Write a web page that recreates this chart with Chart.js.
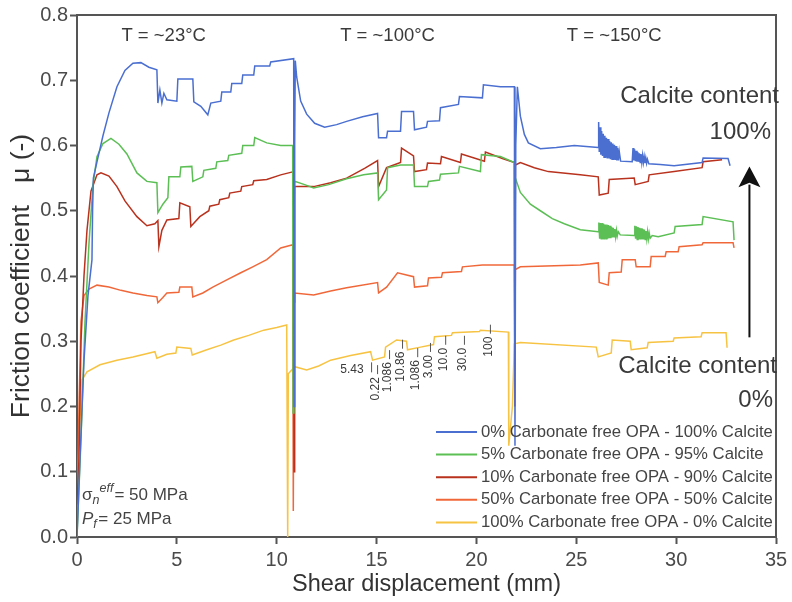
<!DOCTYPE html>
<html>
<head>
<meta charset="utf-8">
<script src="https://cdn.jsdelivr.net/npm/chart.js@4"></script>
<style>
html, body { margin: 0; padding: 0; background: #fff; }
</style>
</head>
<body>
<canvas id="chart" width="792" height="602"></canvas>
<script>
// séries : [déplacement (mm), coefficient de friction]
var calcite100 = [[0,0.0],[0.15,0.12],[0.35,0.27],[0.55,0.37],[0.75,0.425],[0.78,0.5],[0.82,0.55],[1.0,0.575],[1.3,0.615],[1.6,0.65],[2.0,0.69],[2.4,0.715],[2.8,0.726],[3.2,0.727],[3.6,0.72],[4.0,0.716],
  [4.05,0.665],[4.15,0.685],[4.25,0.665],[4.35,0.68],[4.5,0.67],[5.0,0.668],[5.05,0.702],[5.8,0.702],[5.85,0.667],[6.2,0.66],[6.55,0.647],[6.7,0.665],[7.2,0.668],[7.25,0.682],[7.7,0.682],[7.75,0.695],[8.25,0.695],[8.3,0.708],[8.85,0.708],[8.9,0.722],[9.65,0.722],[9.7,0.728],[10.85,0.733],
  [10.87,0.2],[10.9,0.6],[10.93,0.73],[11.0,0.705],[11.2,0.668],[11.5,0.648],[11.9,0.634],[12.4,0.628],[13.0,0.632],[13.5,0.637],[14.3,0.644],[15.05,0.649],[15.1,0.612],[15.5,0.612],[15.55,0.622],[16.2,0.622],[16.25,0.652],[16.85,0.652],[16.9,0.624],[17.5,0.628],[17.55,0.637],[18.15,0.638],[18.2,0.658],[19.1,0.663],[19.15,0.675],[20.3,0.673],[20.35,0.693],[21.2,0.69],[21.9,0.69],
  [21.93,0.14],[21.97,0.6],[22.05,0.69],[22.2,0.645],[22.4,0.617],[22.6,0.604],[23.2,0.595],[24.0,0.597],[24.9,0.6],[26.1,0.597],
  [26.12,0.636],[26.15,0.59],[26.19,0.628],[26.23,0.586],[26.27,0.622],[26.31,0.584],[26.35,0.618],[26.39,0.582],[26.43,0.615],[26.47,0.581],[26.51,0.612],[26.55,0.58],[26.59,0.61],[26.63,0.58],[26.67,0.607],[26.71,0.579],[26.75,0.605],[26.79,0.579],[26.83,0.603],[26.87,0.578],[26.91,0.601],[26.95,0.578],[26.99,0.599],[27.03,0.577],[27.07,0.596],[27.11,0.577],[27.15,0.591],[27.22,0.576],[27.8,0.575],
  [27.84,0.596],[27.88,0.577],[27.92,0.594],[27.96,0.576],[28.0,0.592],[28.04,0.575],[28.08,0.59],[28.12,0.575],[28.16,0.588],[28.2,0.574],[28.24,0.587],[28.28,0.574],[28.32,0.585],[28.36,0.574],[28.4,0.583],[28.44,0.573],[28.48,0.581],[28.52,0.573],[28.56,0.579],[28.63,0.572],[29.2,0.571],[29.9,0.569],[31.3,0.574],[31.35,0.581],[32.6,0.58],[32.7,0.569]];

var calcite95 = [[0,0.0],[0.2,0.15],[0.4,0.33],[0.6,0.45],[0.8,0.54],[1.0,0.583],[1.3,0.603],[1.7,0.611],[2.1,0.602],[2.5,0.587],[3.0,0.558],[3.5,0.545],[4.0,0.543],
  [4.05,0.497],[4.3,0.51],[4.55,0.52],[4.6,0.552],[5.15,0.552],[5.2,0.567],[5.75,0.568],[5.8,0.545],[6.3,0.552],[6.35,0.562],[6.95,0.565],[7.0,0.575],[7.55,0.577],[7.6,0.585],[8.25,0.588],[8.3,0.6],[8.85,0.6],[8.9,0.612],[9.5,0.604],[10.2,0.6],[10.8,0.6],
  [10.82,0.19],[10.86,0.5],[10.9,0.545],[11.4,0.54],[11.85,0.535],[12.6,0.54],[13.5,0.549],[14.35,0.555],[15.05,0.558],[15.1,0.517],[15.5,0.532],[15.55,0.566],[16.2,0.57],[16.85,0.57],[16.9,0.537],[17.55,0.537],[17.6,0.545],[18.15,0.547],[18.2,0.556],[19.1,0.558],[19.15,0.568],[20.2,0.56],[20.25,0.586],[21.2,0.583],[21.9,0.574],
  [21.92,0.3],[21.95,0.55],[22.2,0.528],[22.7,0.51],[23.2,0.5],[23.8,0.488],[24.4,0.48],[25.2,0.471],[26.1,0.468],
  [26.13,0.482],[26.17,0.457],[26.21,0.481],[26.25,0.456],[26.29,0.481],[26.33,0.456],[26.37,0.48],[26.41,0.456],[26.45,0.479],[26.49,0.457],[26.53,0.479],[26.57,0.457],[26.61,0.478],[26.65,0.458],[26.69,0.477],[26.73,0.458],[26.77,0.475],[26.81,0.459],[26.85,0.474],[26.89,0.46],[26.93,0.472],[26.97,0.46],[27.01,0.47],[27.05,0.461],[27.1,0.468],[27.2,0.463],[27.9,0.462],
  [27.93,0.477],[27.97,0.457],[28.01,0.476],[28.05,0.456],[28.09,0.475],[28.13,0.456],[28.17,0.474],[28.21,0.456],[28.25,0.473],[28.29,0.456],[28.33,0.472],[28.37,0.456],[28.41,0.471],[28.45,0.456],[28.49,0.469],[28.53,0.457],[28.57,0.468],[28.61,0.457],[28.65,0.466],[28.7,0.458],[28.8,0.462],[29.1,0.46],[29.9,0.466],[29.95,0.476],[31.3,0.479],[31.35,0.491],[32.85,0.483],[32.9,0.455]];

var calcite90 = [[0,0.05],[0.1,0.12],[0.2,0.3],[0.35,0.4],[0.5,0.47],[0.7,0.53],[1.0,0.555],[1.2,0.558],[1.6,0.553],[2.0,0.537],[2.4,0.515],[3.0,0.491],[3.5,0.477],[3.9,0.48],[4.05,0.485],
  [4.1,0.445],[4.25,0.47],[4.5,0.486],[5.1,0.488],[5.15,0.512],[5.65,0.506],[5.7,0.476],[6.15,0.491],[6.6,0.5],[6.65,0.507],[7.1,0.51],[7.15,0.517],[7.6,0.52],[7.65,0.527],[8.2,0.53],[8.25,0.537],[8.8,0.54],[8.85,0.546],[9.5,0.548],[10.2,0.555],[10.85,0.56],
  [10.87,0.1],[10.9,0.537],[11.85,0.537],[12.7,0.543],[13.5,0.55],[14.4,0.565],[15.05,0.577],[15.1,0.537],[15.5,0.566],[16.2,0.574],[16.25,0.596],[16.85,0.584],[16.9,0.56],[17.5,0.563],[17.55,0.573],[18.2,0.572],[18.25,0.583],[19.2,0.574],[19.25,0.587],[20.4,0.576],[20.45,0.59],[21.3,0.58],[21.9,0.574],
  [21.92,0.2],[21.95,0.57],[22.2,0.574],[22.9,0.566],[23.6,0.56],[25.2,0.555],[26.1,0.552],[26.15,0.524],[26.6,0.527],[26.65,0.548],[27.9,0.55],[27.95,0.54],[28.6,0.545],[28.65,0.555],[29.9,0.56],[31.3,0.566],[31.35,0.575],[32.3,0.578]];

var calcite50 = [[0,0.03],[0.1,0.2],[0.2,0.33],[0.35,0.37],[0.6,0.38],[1.0,0.386],[1.6,0.383],[2.2,0.378],[2.8,0.374],[3.5,0.37],[4.0,0.368],
  [4.05,0.359],[4.3,0.367],[4.5,0.374],[5.1,0.375],[5.15,0.383],[5.75,0.383],[5.8,0.368],[6.3,0.374],[6.8,0.383],[7.5,0.394],[8.2,0.405],[8.8,0.414],[9.5,0.425],[10.2,0.443],[10.8,0.448],
  [10.83,0.04],[10.87,0.36],[10.9,0.374],[11.85,0.371],[12.7,0.377],[13.5,0.382],[15.05,0.39],[15.1,0.374],[15.5,0.383],[16.05,0.405],[16.85,0.399],[16.9,0.383],[17.55,0.385],[17.6,0.397],[18.25,0.398],[18.3,0.405],[19.25,0.407],[19.3,0.414],[20.3,0.417],[21.9,0.417],
  [21.92,0.25],[21.95,0.41],[22.2,0.414],[25.2,0.417],[26.1,0.42],[26.15,0.39],[26.6,0.386],[26.65,0.405],[27.25,0.406],[27.3,0.425],[27.95,0.425],[28.0,0.414],[28.7,0.414],[28.75,0.43],[29.45,0.43],[29.5,0.437],[30.1,0.437],[30.15,0.445],[31.3,0.448],[31.35,0.451],[32.85,0.451],[32.9,0.443]];

var calcite0 = [[0,0.0],[0.1,0.15],[0.25,0.241],[0.5,0.253],[1.15,0.264],[2.0,0.271],[2.8,0.276],[3.9,0.284],[4.0,0.274],[4.5,0.28],[4.95,0.282],[5.0,0.291],[5.7,0.289],[5.77,0.279],[6.5,0.287],[7.2,0.294],[7.85,0.302],[8.6,0.309],[9.35,0.317],[10.0,0.321],[10.5,0.325],
  [10.55,0.0],[10.58,0.25],[10.9,0.261],[11.5,0.256],[12.1,0.262],[12.7,0.271],[13.7,0.278],[14.7,0.284],[14.8,0.271],[15.4,0.276],[15.45,0.291],[16.0,0.302],[16.5,0.3],[16.55,0.287],[17.2,0.291],[17.85,0.295],[17.9,0.307],[18.75,0.309],[18.8,0.313],[20.15,0.315],[20.2,0.317],[21.6,0.314],
  [21.62,0.14],[21.8,0.2],[21.9,0.296],[22.2,0.298],[26.0,0.291],[26.1,0.276],[26.75,0.282],[26.8,0.302],[27.7,0.3],[27.75,0.287],[28.55,0.29],[28.6,0.298],[29.85,0.3],[29.9,0.305],[31.25,0.307],[31.3,0.313],[32.5,0.313],[32.55,0.29]];

var seriesLabels = ['0% Carbonate free OPA - 100% Calcite', '5% Carbonate free OPA - 95% Calcite', '10% Carbonate free OPA - 90% Calcite', '50% Carbonate free OPA - 50% Calcite', '100% Carbonate free OPA - 0% Calcite'];
var seriesColors = ['#4a6fd1', '#5cbf55', '#b8321e', '#f0683a', '#f7c343'];

var tempLabels = ['T = ~23°C', 'T = ~100°C', 'T = ~150°C'];
var tempX = [4.34, 15.55, 26.9];

// vitesses (µm/s) notées sous la courbe jaune
var velLabels = ['0.22', '1.086', '10.86', '1.086', '3.00', '10.0', '30.0', '100'];
var velX = [14.95, 15.55, 16.2, 16.96, 17.6, 18.36, 19.3, 20.6];
var velTop = [0.245, 0.268, 0.284, 0.271, 0.279, 0.29, 0.29, 0.307];

function toPts(a) {
  return a.map(function(p) { return { x: p[0], y: p[1] }; });
}

var allSeries = [calcite100, calcite95, calcite90, calcite50, calcite0];

Chart.defaults.font.family = '"Liberation Sans", Arial, sans-serif';
Chart.defaults.color = '#4a4a4a';

var decor = {
  id: 'decor',
  afterDraw: function(chart) {
    var ctx = chart.ctx, xs = chart.scales.x, ys = chart.scales.y, a = chart.chartArea;
    var px = function(v) { return xs.getPixelForValue(v); };
    var py = function(v) { return ys.getPixelForValue(v); };
    ctx.save();

    // cadre haut / droite
    ctx.strokeStyle = '#555';
    ctx.lineWidth = 2;
    ctx.beginPath();
    ctx.moveTo(a.left, a.top);
    ctx.lineTo(a.right, a.top);
    ctx.lineTo(a.right, a.bottom);
    ctx.stroke();

    ctx.fillStyle = '#3a3a3a';
    ctx.textBaseline = 'middle';

    // températures
    ctx.font = '18.5px "Liberation Sans", Arial';
    ctx.textAlign = 'center';
    tempLabels.forEach(function(t, i) { ctx.fillText(t, px(tempX[i]), py(0.768)); });

    // teneur en calcite
    ctx.font = '24px "Liberation Sans", Arial';
    ctx.textAlign = 'right';
    ctx.fillText('Calcite content', px(35) + 3, py(0.676));
    ctx.fillText('100%', px(35) - 5, py(0.62));
    ctx.fillText('Calcite content', px(35) + 1, py(0.261));
    ctx.fillText('0%', px(35) - 3, py(0.21));

    // flèche
    var ax = px(33.67);
    ctx.strokeStyle = '#111';
    ctx.lineWidth = 2;
    ctx.beginPath();
    ctx.moveTo(ax, py(0.306));
    ctx.lineTo(ax, py(0.54));
    ctx.stroke();
    ctx.fillStyle = '#111';
    ctx.beginPath();
    ctx.moveTo(ax, py(0.568));
    ctx.lineTo(ax - 11, py(0.536));
    ctx.lineTo(ax, py(0.543));
    ctx.lineTo(ax + 11, py(0.536));
    ctx.closePath();
    ctx.fill();

    // vitesses
    ctx.fillStyle = '#3a3a3a';
    ctx.font = '12px "Liberation Sans", Arial';
    ctx.textAlign = 'right';
    ctx.fillText('5.43', px(14.35), py(0.257));
    ctx.strokeStyle = '#555';
    ctx.lineWidth = 1;
    ctx.beginPath();
    ctx.moveTo(px(14.75), py(0.26) - 5);
    ctx.lineTo(px(14.75), py(0.26) + 5);
    ctx.stroke();
    velLabels.forEach(function(t, i) {
      var x = px(velX[i]), y = py(velTop[i]);
      ctx.save();
      ctx.translate(x, y);
      ctx.rotate(-Math.PI / 2);
      ctx.textAlign = 'right';
      ctx.fillText(t, 0, 0);
      ctx.restore();
      ctx.beginPath();
      ctx.moveTo(x + 2, y - 3);
      ctx.lineTo(x + 2, y - 12);
      ctx.stroke();
    });

    // contraintes
    ctx.textAlign = 'left';
    ctx.textBaseline = 'alphabetic';
    ctx.fillStyle = '#444';
    var x0 = a.left + 5, y1 = 500, y2 = 524;
    ctx.font = '17px "Liberation Sans", Arial';
    ctx.fillText('σ', x0, y1);
    var w = ctx.measureText('σ').width;
    ctx.font = 'italic 12.5px "Liberation Sans", Arial';
    ctx.fillText('n', x0 + w, y1 + 4);
    ctx.fillText('eff', x0 + w + 7, y1 - 8);
    var w2 = ctx.measureText('eff').width;
    ctx.font = '17px "Liberation Sans", Arial';
    ctx.fillText('= 50 MPa', x0 + w + 8 + w2, y1);
    ctx.font = 'italic 17px "Liberation Sans", Arial';
    ctx.fillText('P', x0, y2);
    var wp = ctx.measureText('P').width;
    ctx.font = 'italic 12.5px "Liberation Sans", Arial';
    ctx.fillText('f', x0 + wp, y2 + 4);
    ctx.font = '17px "Liberation Sans", Arial';
    ctx.fillText('= 25 MPa', x0 + wp + 5, y2);

    // légende
    ctx.font = '16.7px "Liberation Sans", Arial';
    ctx.textBaseline = 'middle';
    chart.data.datasets.forEach(function(ds, i) {
      var y = 432 + i * 22.6;
      ctx.strokeStyle = ds.borderColor;
      ctx.lineWidth = 2;
      ctx.beginPath();
      ctx.moveTo(436, y);
      ctx.lineTo(477, y);
      ctx.stroke();
      ctx.fillStyle = '#444';
      ctx.fillText(ds.label, 481, y);
    });

    ctx.restore();
  }
};

new Chart(document.getElementById('chart'), {
  type: 'line',
  data: {
    datasets: allSeries.map(function(s, i) {
      return {
        label: seriesLabels[i],
        data: toPts(s),
        borderColor: seriesColors[i],
        backgroundColor: seriesColors[i],
        borderWidth: 1.5,
        pointRadius: 0,
        tension: 0
      };
    })
  },
  options: {
    responsive: false,
    animation: false,
    layout: { padding: { top: 15, right: 16, left: 0, bottom: 0 } },
    plugins: { legend: { display: false }, tooltip: { enabled: false } },
    scales: {
      x: {
        type: 'linear',
        min: 0,
        max: 35,
        afterFit: function(s) { s.height = 65; },
        ticks: { stepSize: 5, padding: 4, font: { size: 20 }, color: '#4a4a4a', maxRotation: 0 },
        grid: { drawOnChartArea: false, tickLength: 7, tickColor: '#555', tickWidth: 2 },
        border: { color: '#555', width: 2 },
        title: { display: true, text: 'Shear displacement (mm)', font: { size: 23.5 }, color: '#333', padding: { top: 0, bottom: 3 } }
      },
      y: {
        min: 0,
        max: 0.8,
        afterFit: function(s) { s.width = 77; },
        ticks: { stepSize: 0.1, padding: 2, font: { size: 20 }, color: '#4a4a4a', callback: function(v) { return v.toFixed(1); } },
        grid: { drawOnChartArea: false, tickLength: 7, tickColor: '#555', tickWidth: 2 },
        border: { color: '#555', width: 2 },
        title: { display: true, text: 'Friction coefficient   μ (-)', font: { size: 26.5 }, color: '#333', padding: { top: 6, bottom: 0 } }
      }
    }
  },
  plugins: [decor]
});
</script>
</body>
</html>
